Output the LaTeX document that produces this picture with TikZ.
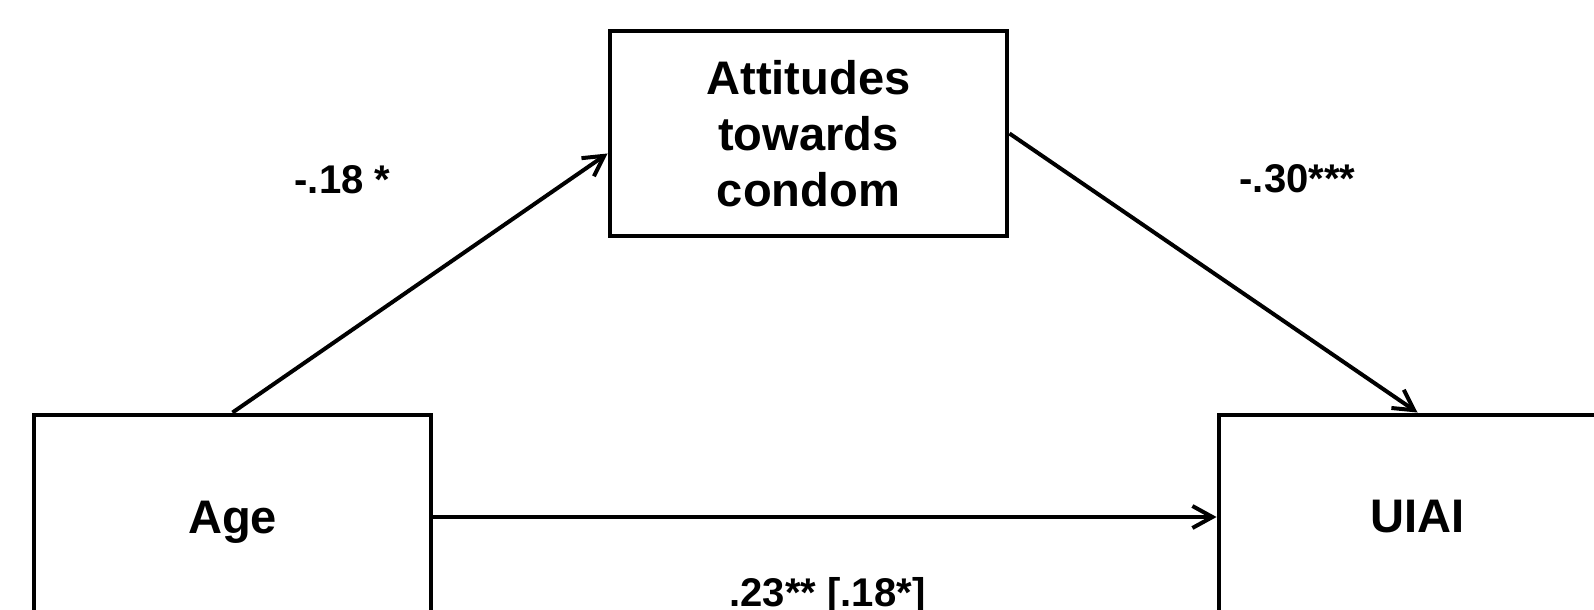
\documentclass[tikz,border=0pt]{standalone}
\usepackage{fontspec}
\setmainfont{Liberation Sans}
\usetikzlibrary{arrows.meta}

\begin{document}
\begin{tikzpicture}[x=0.02cm, y=0.02cm, line width=2.27pt,
    >={Straight Barb[length=0.4cm, width=0.44cm]},
    varbox/.style={draw, minimum width=7.96cm, minimum height=4.1cm, inner sep=0pt,
        align=center, font=\bfseries\fontsize{26.8}{31.9}\selectfont},
    coef/.style={anchor=base, font=\bfseries\fontsize{22.8}{27}\selectfont}]
% Frame
\useasboundingbox (0,0) rectangle (1594,609);
\clip (0,0) rectangle (1594,609);

% Variables
\node[varbox, text depth=0pt] (age) at (232.5,92) {Age};
\node[varbox] (att) at (808.5,475.5) {Attitudes\\towards\\condom};
\node[varbox] (uiai) at (1417.5,92) {UIAI};

% Paths
\draw[->] (age.north) -- ([yshift=-0.4cm]att.west);
\draw[->] (att.east) -- (uiai.north);
\draw[->] (age) -- (uiai);

% Coefficients
\node[coef] (cage) at (342.5,415) {-.18 *};
\node[coef] (catt) at (1297.5,416) {-.30***};
\node[coef] (cdir) at (827.5,3) {.23** [.18*]};
\end{tikzpicture}
\end{document}
